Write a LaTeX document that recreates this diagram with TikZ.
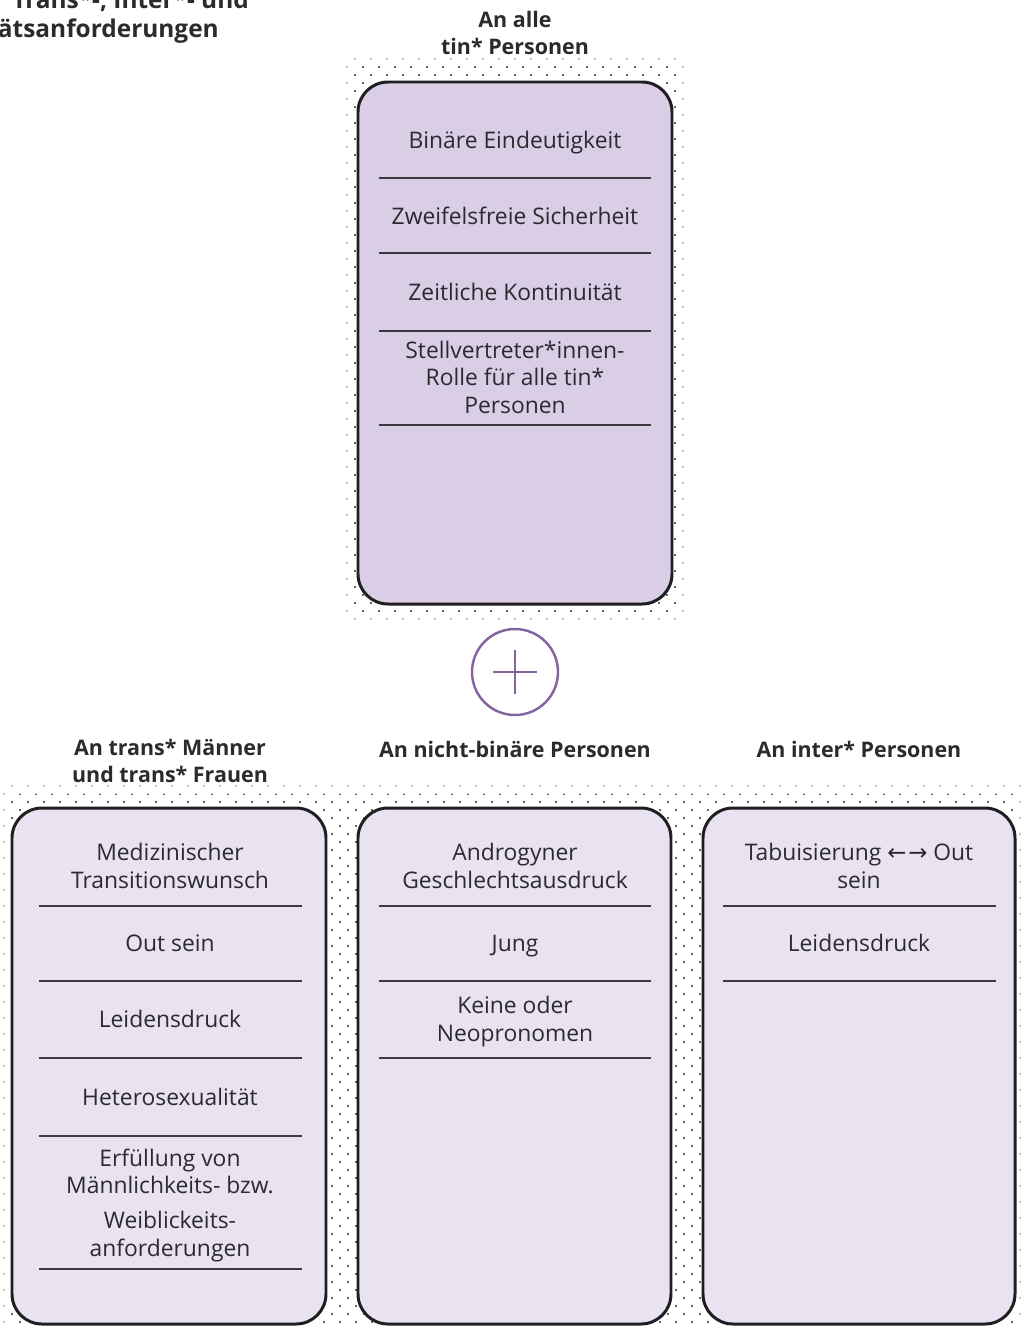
\documentclass[tikz,border=0pt]{standalone}
\usepackage{fontspec}
\setmainfont{Open Sans}
\newfontfamily\arrowfont{DejaVu Sans}
\usetikzlibrary{patterns.meta}
\definecolor{boxtop}{HTML}{DACEE6}
\definecolor{boxlow}{HTML}{E8E2F1}
\definecolor{plusviolet}{HTML}{84649F}
\definecolor{inktext}{HTML}{2B2A2E}
\definecolor{cardline}{HTML}{1F1E21}
\definecolor{sepgray}{HTML}{3C3A40}
\tikzdeclarepattern{name=tindots, type=uncolored,
  bounding box={(0,0) and (0.32cm,0.32cm)}, tile size={(0.32cm,0.32cm)},
  code={\fill (0.08cm,0.08cm) circle (0.016cm); \fill (0.24cm,0.24cm) circle (0.016cm);}}
\begin{document}
\begin{tikzpicture}[x=0.02cm, y=-0.02cm,
  head/.style={font=\bfseries\fontsize{12.2}{15.2}\selectfont, text=inktext, align=center, anchor=base},
  item/.style={font=\fontsize{13}{15.4}\selectfont, text=inktext, align=center, anchor=base},
  titletext/.style={font=\bfseries\fontsize{13.9}{16.5}\selectfont, text=inktext, anchor=base east},
  sep/.style={draw=sepgray, line width=1.1pt},
  card/.style={draw=cardline, line width=1.7pt, rounded corners=0.6cm},
  dotsoft/.style={pattern=tindots, pattern color=black!45},
  dotfull/.style={pattern=tindots, pattern color=black}]
\useasboundingbox (0,0) rectangle (1024,1326);

% cut title
\node[titletext] (title1) at (255,8) {Trans*-, Inter*- und};
\node[titletext] (title2) at (225,37) {tätsanforderungen};

% dotted ground, lighter at the rim
\fill[dotsoft] (346,58) rectangle (686,624);
\fill[dotfull] (354,66) rectangle (678,616);
\fill[dotsoft] (0,784) rectangle (1024,1326);
\fill[dotfull] (6,794) rectangle (1018,1326);

% top card
\node[head] (hAlle) at (515,54) {An alle\\tin* Personen};
\draw[card, fill=boxtop] (358,82) rectangle (672,604);
\node[item] (bin) at (515,148) {Binäre Eindeutigkeit};
\node[item] (zwei) at (515,224) {Zweifelsfreie Sicherheit};
\node[item] (zeit) at (515,300) {Zeitliche Kontinuität};
\node[item] (stell) at (515,413) {Stellvertreter*innen-\\Rolle für alle tin*\\Personen};
\foreach \y in {178,253,331,425}
  \draw[sep] (379,\y) -- (651,\y);

% plus
\node[circle, draw=plusviolet, line width=1.4pt, minimum size=1.72cm] (plus) at (515,672) {};
\draw[plusviolet, line width=1.6pt] ([xshift=-0.44cm]plus.center) -- ([xshift=0.44cm]plus.center);
\draw[plusviolet, line width=1.6pt] ([yshift=-0.44cm]plus.center) -- ([yshift=0.44cm]plus.center);

% trans* Maenner und Frauen
\node[head] (hTrans) at (170,782) {An trans* Männer\\und trans* Frauen};
\draw[card, fill=boxlow] (12,808) rectangle (326,1324);
\node[item] (med) at (170,888) {Medizinischer\\Transitionswunsch};
\node[item] (out) at (170,951) {Out sein};
\node[item] (leid) at (170,1027) {Leidensdruck};
\node[item] (hetero) at (170,1105) {Heterosexualität};
\node[item] (erf) at (170,1256) {Erfüllung von\\Männlichkeits- bzw.\\[4.5pt]Weiblickeits-\\anforderungen};
\foreach \y in {906,981,1058,1136,1269}
  \draw[sep] (39,\y) -- (302,\y);

% nicht-binaer
\node[head] (hNb) at (515,757) {An nicht-binäre Personen};
\draw[card, fill=boxlow] (358,808) rectangle (671,1324);
\node[item] (andro) at (515,888) {Androgyner\\Geschlechtsausdruck};
\node[item] (jung) at (515,951) {Jung};
\node[item] (neo) at (515,1041) {Keine oder\\Neopronomen};
\foreach \y in {906,981,1058}
  \draw[sep] (379,\y) -- (651,\y);

% inter*
\node[head] (hInter) at (859,757) {An inter* Personen};
\draw[card, fill=boxlow] (703,808) rectangle (1015,1324);
\node[item] (tabu) at (859,888) {Tabuisierung {\arrowfont ←\kern1pt→} Out\\sein};
\node[item] (leidI) at (859,951) {Leidensdruck};
\foreach \y in {906,981}
  \draw[sep] (723,\y) -- (996,\y);
\end{tikzpicture}
\end{document}
